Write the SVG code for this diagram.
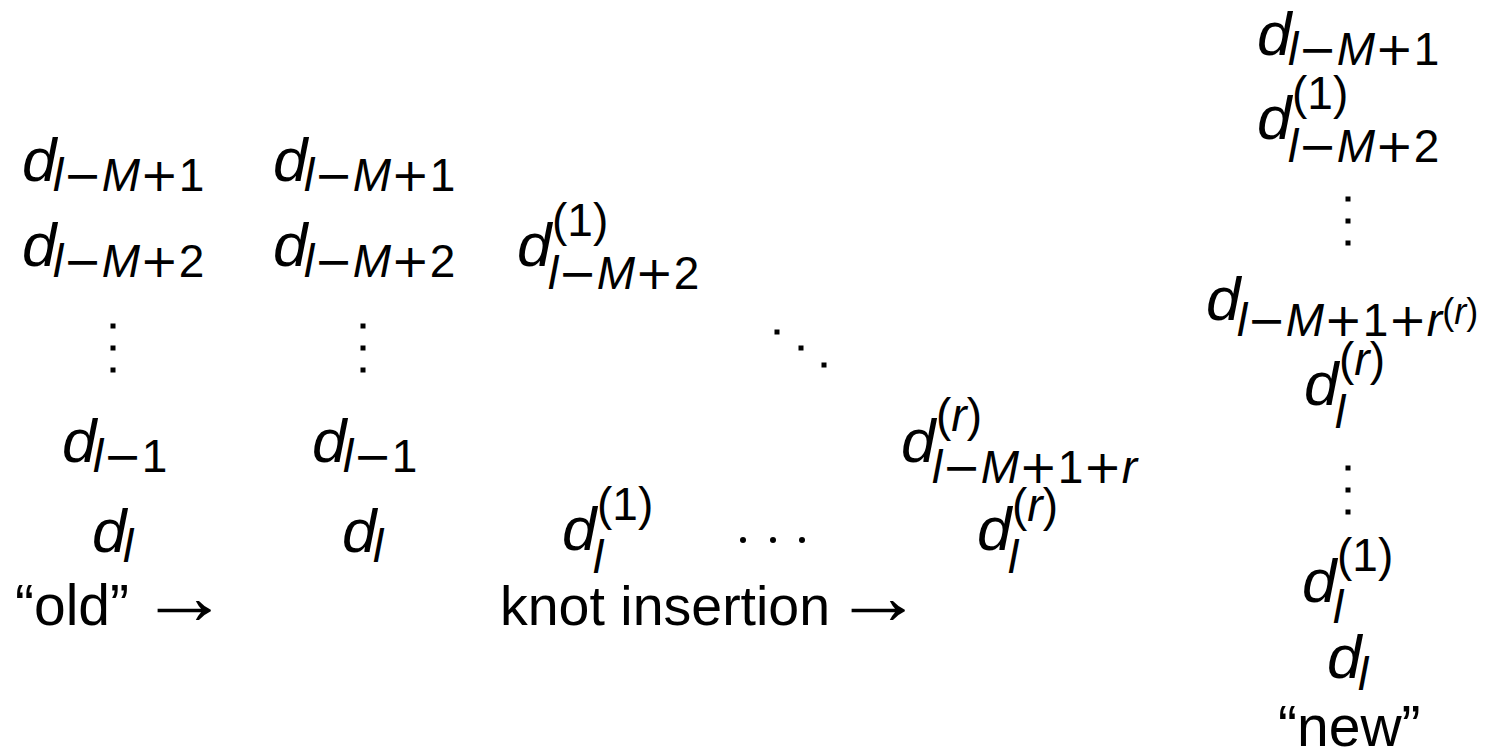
<svg xmlns="http://www.w3.org/2000/svg" width="1494" height="753" viewBox="0 0 1494 753">
<style>
text{font-family:"Liberation Sans",Arial,sans-serif;font-size:62px;fill:#000}
.m{font-style:italic}
.s{font-size:46px}
.ss{font-size:36px}
.it{font-style:italic}
.op{font-family:"DejaVu Sans",sans-serif;font-style:normal}
.t{font-size:57px}
.k{font-size:55.5px}
.ar{font-family:"Liberation Sans",sans-serif;font-size:58px}
.dot{fill:#000}
</style>
<rect width="1494" height="753" fill="#fff"/>

<g id="col-old">
<text><tspan class="m" x="22" y="181">d</tspan><tspan class="s" x="53" y="191"><tspan class="it">l</tspan><tspan class="op">−</tspan><tspan class="it">M</tspan><tspan class="op">+</tspan>1</tspan></text>
<text><tspan class="m" x="22" y="266">d</tspan><tspan class="s" x="53" y="277"><tspan class="it">l</tspan><tspan class="op">−</tspan><tspan class="it">M</tspan><tspan class="op">+</tspan>2</tspan></text>
<rect class="dot" x="110.5" y="323.5" width="5" height="5"/><rect class="dot" x="110.5" y="345.5" width="5" height="5"/><rect class="dot" x="110.5" y="367.5" width="5" height="5"/>
<text><tspan class="m" x="62" y="462">d</tspan><tspan class="s" x="93" y="472"><tspan class="it">l</tspan><tspan class="op">−</tspan>1</tspan></text>
<text><tspan class="m" x="92" y="552">d</tspan><tspan class="s it" x="123" y="562">l</tspan></text>
<text class="t" x="15" y="625">“old”</text>
<text class="ar" transform="translate(139,624) scale(1.55,1.4)">→</text>
</g>

<g id="col-copy">
<text><tspan class="m" x="273" y="181">d</tspan><tspan class="s" x="304" y="191"><tspan class="it">l</tspan><tspan class="op">−</tspan><tspan class="it">M</tspan><tspan class="op">+</tspan>1</tspan></text>
<text><tspan class="m" x="273" y="266">d</tspan><tspan class="s" x="304" y="277"><tspan class="it">l</tspan><tspan class="op">−</tspan><tspan class="it">M</tspan><tspan class="op">+</tspan>2</tspan></text>
<rect class="dot" x="360.5" y="323.5" width="5" height="5"/><rect class="dot" x="360.5" y="345.5" width="5" height="5"/><rect class="dot" x="360.5" y="367.5" width="5" height="5"/>
<text><tspan class="m" x="312" y="462">d</tspan><tspan class="s" x="343" y="472"><tspan class="it">l</tspan><tspan class="op">−</tspan>1</tspan></text>
<text><tspan class="m" x="342" y="552">d</tspan><tspan class="s it" x="373" y="562">l</tspan></text>
</g>

<g id="col-first">
<text><tspan class="m" x="517" y="266">d</tspan><tspan class="s" x="552" y="236">(1)</tspan><tspan class="s" x="548" y="289"><tspan class="it">l</tspan><tspan class="op">−</tspan><tspan class="it">M</tspan><tspan class="op">+</tspan>2</tspan></text>
<text><tspan class="m" x="562" y="550">d</tspan><tspan class="s" x="597" y="520">(1)</tspan><tspan class="s it" x="593" y="573">l</tspan></text>
<text class="k" x="500" y="625">knot insertion</text>
<text class="ar" transform="translate(833,624) scale(1.55,1.4)">→</text>
</g>

<g id="col-dots">
<rect class="dot" x="774.5" y="329.5" width="5" height="5"/><rect class="dot" x="798.5" y="345.5" width="5" height="5"/><rect class="dot" x="821.5" y="362.5" width="5" height="5"/>
<circle class="dot" cx="743" cy="540" r="3"/><circle class="dot" cx="773" cy="540" r="3"/><circle class="dot" cx="802" cy="540" r="3"/>
</g>

<g id="col-r">
<text><tspan class="m" x="901" y="462">d</tspan><tspan class="s" x="936" y="431">(<tspan class="it">r</tspan>)</tspan><tspan class="s" x="932" y="483"><tspan class="it">l</tspan><tspan class="op">−</tspan><tspan class="it">M</tspan><tspan class="op">+</tspan>1<tspan class="op">+</tspan><tspan class="it">r</tspan></tspan></text>
<text><tspan class="m" x="977" y="550">d</tspan><tspan class="s" x="1012" y="521">(<tspan class="it">r</tspan>)</tspan><tspan class="s it" x="1008" y="573">l</tspan></text>
</g>

<g id="col-new">
<text><tspan class="m" x="1257" y="55">d</tspan><tspan class="s" x="1288" y="65"><tspan class="it">l</tspan><tspan class="op">−</tspan><tspan class="it">M</tspan><tspan class="op">+</tspan>1</tspan></text>
<text><tspan class="m" x="1257" y="139">d</tspan><tspan class="s" x="1292" y="109">(1)</tspan><tspan class="s" x="1288" y="162"><tspan class="it">l</tspan><tspan class="op">−</tspan><tspan class="it">M</tspan><tspan class="op">+</tspan>2</tspan></text>
<rect class="dot" x="1345.5" y="196.5" width="5" height="5"/><rect class="dot" x="1345.5" y="218.5" width="5" height="5"/><rect class="dot" x="1345.5" y="240.5" width="5" height="5"/>
<text><tspan class="m" x="1206" y="320">d</tspan><tspan class="s" x="1237" y="336"><tspan class="it">l</tspan><tspan class="op">−</tspan><tspan class="it">M</tspan><tspan class="op">+</tspan>1<tspan class="op">+</tspan><tspan class="it">r</tspan></tspan><tspan class="ss" y="324">(<tspan class="it">r</tspan>)</tspan></text>
<text><tspan class="m" x="1304" y="405">d</tspan><tspan class="s" x="1339" y="375">(<tspan class="it">r</tspan>)</tspan><tspan class="s it" x="1335" y="428">l</tspan></text>
<rect class="dot" x="1345.5" y="465.5" width="5" height="5"/><rect class="dot" x="1345.5" y="487.5" width="5" height="5"/><rect class="dot" x="1345.5" y="509.5" width="5" height="5"/>
<text><tspan class="m" x="1302" y="602">d</tspan><tspan class="s" x="1337" y="571">(1)</tspan><tspan class="s it" x="1333" y="623">l</tspan></text>
<text><tspan class="m" x="1327" y="678">d</tspan><tspan class="s it" x="1358" y="690">l</tspan></text>
<text class="t" x="1278" y="746">“new”</text>
</g>
</svg>
